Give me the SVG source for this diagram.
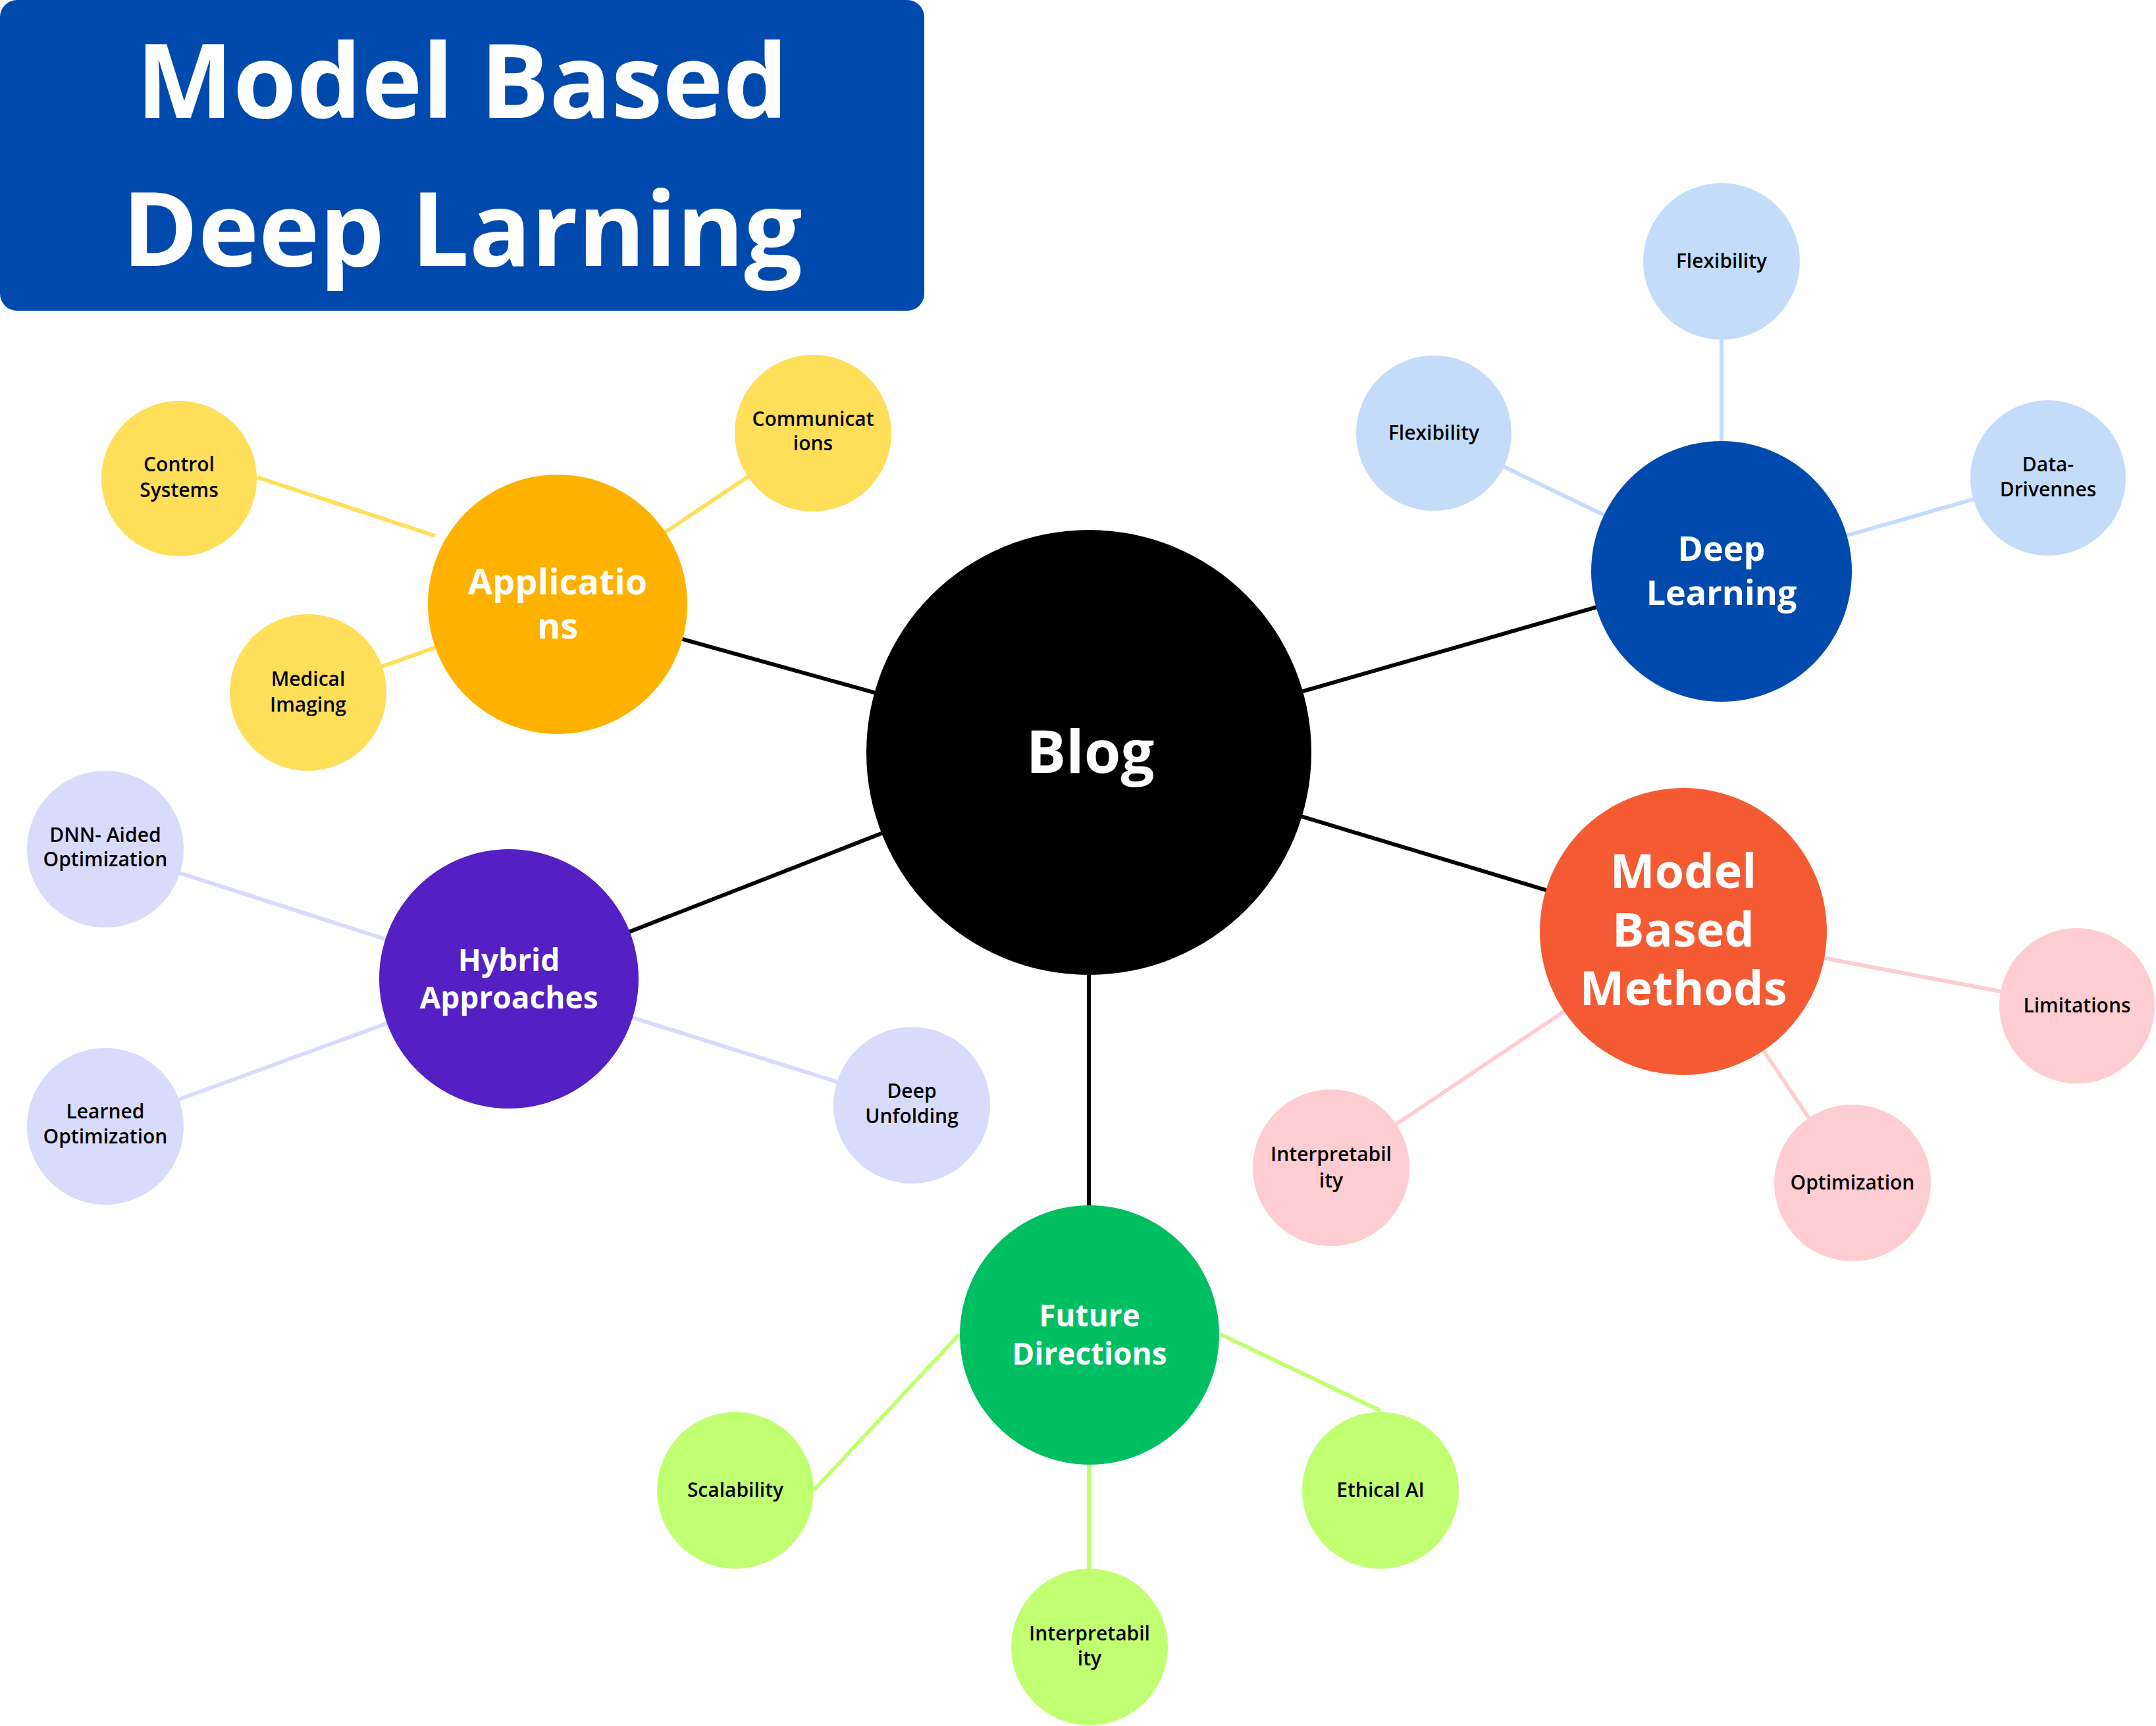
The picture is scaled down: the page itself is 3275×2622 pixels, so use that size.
<svg xmlns="http://www.w3.org/2000/svg" width="3275" height="2622" viewBox="0 0 3275 2622">
<style>
  .t { font-family: "Open Sans", "Noto Sans", "DejaVu Sans", sans-serif; text-anchor: middle; font-weight: 700; }
  .title { font-size: 156px; fill: #ffffff; }
  .blog { font-size: 90px; fill: #ffffff; }
  .apps { font-size: 54px; fill: #ffffff; }
  .dl { font-size: 52px; fill: #ffffff; }
  .mid { font-size: 46px; fill: #ffffff; }
  .mbm { font-size: 72px; fill: #ffffff; }
  .sm { font-size: 30px; fill: #000000; font-weight: 600; }
  .main { stroke: #000000; stroke-width: 6; }
  .ly { stroke: #ffde59; stroke-width: 6; }
  .lb { stroke: #c4dcfa; stroke-width: 6; }
  .lp { stroke: #fdcdd2; stroke-width: 6; }
  .lv { stroke: #d8dbfc; stroke-width: 6; }
  .lg { stroke: #c1ff72; stroke-width: 6; }
</style>
<rect width="3275" height="2622" fill="#ffffff"/>

<g id="title">
  <rect x="0" y="0" width="1404" height="472" rx="26" fill="#004aad"/>
  <text class="t title" x="702" y="179">Model Based</text>
  <text class="t title" x="702" y="404">Deep Larning</text>
</g>

<g id="connectors">
  <line class="main" x1="1654" y1="1143" x2="847" y2="918"/>
  <line class="main" x1="1654" y1="1143" x2="2615" y2="868"/>
  <line class="main" x1="1654" y1="1143" x2="2557" y2="1415"/>
  <line class="main" x1="1654" y1="1143" x2="773" y2="1487"/>
  <line class="main" x1="1654" y1="1143" x2="1654" y2="2028"/>

  <line class="ly" x1="391" y1="725" x2="661" y2="814"/>
  <line class="ly" x1="1235" y1="658" x2="847" y2="918"/>
  <line class="ly" x1="468" y1="1052" x2="847" y2="918"/>

  <line class="lb" x1="2615" y1="397" x2="2615" y2="868"/>
  <line class="lb" x1="2178" y1="658" x2="2615" y2="868"/>
  <line class="lb" x1="3111" y1="726" x2="2615" y2="868"/>

  <line class="lp" x1="2557" y1="1415" x2="3155" y2="1528"/>
  <line class="lp" x1="2557" y1="1415" x2="2814" y2="1797"/>
  <line class="lp" x1="2557" y1="1415" x2="2022" y2="1774"/>

  <line class="lv" x1="160" y1="1290" x2="773" y2="1487"/>
  <line class="lv" x1="160" y1="1711" x2="773" y2="1487"/>
  <line class="lv" x1="1385" y1="1679" x2="773" y2="1487"/>

  <line class="lg" x1="1236" y1="2264" x2="1457" y2="2027"/>
  <line class="lg" x1="1854" y1="2027" x2="2097" y2="2143"/>
  <line class="lg" x1="1654" y1="2225" x2="1654" y2="2384"/>
</g>

<g id="blog">
  <circle cx="1654" cy="1143" r="338" fill="#000000"/>
  <text class="t blog" x="1656" y="1174">Blog</text>
</g>

<g id="applications">
  <circle cx="847" cy="918" r="197" fill="#ffb100"/>
  <text class="t apps" x="847" y="903">Applicatio</text>
  <text class="t apps" x="847" y="970">ns</text>
</g>
<g id="control-systems">
  <circle cx="272" cy="727" r="118" fill="#ffde59"/>
  <text class="t sm" x="272" y="716">Control</text>
  <text class="t sm" x="272" y="755">Systems</text>
</g>
<g id="communications">
  <circle cx="1235" cy="658" r="119" fill="#ffde59"/>
  <text class="t sm" x="1235" y="647">Communicat</text>
  <text class="t sm" x="1235" y="684">ions</text>
</g>
<g id="medical-imaging">
  <circle cx="468" cy="1052" r="119" fill="#ffde59"/>
  <text class="t sm" x="468" y="1042">Medical</text>
  <text class="t sm" x="468" y="1081">Imaging</text>
</g>

<g id="deep-learning">
  <circle cx="2615" cy="868" r="198" fill="#004aad"/>
  <text class="t dl" x="2615" y="852">Deep</text>
  <text class="t dl" x="2615" y="919">Learning</text>
</g>
<g id="flexibility-top">
  <circle cx="2615" cy="397" r="119" fill="#c4dcfa"/>
  <text class="t sm" x="2615" y="407">Flexibility</text>
</g>
<g id="flexibility-left">
  <circle cx="2178" cy="658" r="118" fill="#c4dcfa"/>
  <text class="t sm" x="2178" y="668">Flexibility</text>
</g>
<g id="data-drivennes">
  <circle cx="3111" cy="726" r="118" fill="#c4dcfa"/>
  <text class="t sm" x="3111" y="716">Data-</text>
  <text class="t sm" x="3111" y="754">Drivennes</text>
</g>

<g id="model-based-methods">
  <circle cx="2557" cy="1415" r="218" fill="#f55b33"/>
  <text class="t mbm" x="2557" y="1349">Model</text>
  <text class="t mbm" x="2557" y="1438">Based</text>
  <text class="t mbm" x="2557" y="1527">Methods</text>
</g>
<g id="limitations">
  <circle cx="3155" cy="1528" r="118" fill="#fdcdd2"/>
  <text class="t sm" x="3155" y="1538">Limitations</text>
</g>
<g id="optimization">
  <circle cx="2814" cy="1797" r="119" fill="#fdcdd2"/>
  <text class="t sm" x="2814" y="1807">Optimization</text>
</g>
<g id="interpretability-mbm">
  <circle cx="2022" cy="1774" r="119" fill="#fdcdd2"/>
  <text class="t sm" x="2022" y="1764">Interpretabil</text>
  <text class="t sm" x="2022" y="1804">ity</text>
</g>

<g id="hybrid-approaches">
  <circle cx="773" cy="1487" r="197" fill="#5420c4"/>
  <text class="t mid" x="773" y="1475">Hybrid</text>
  <text class="t mid" x="773" y="1532">Approaches</text>
</g>
<g id="dnn-aided-optimization">
  <circle cx="160" cy="1290" r="119" fill="#d8dbfc"/>
  <text class="t sm" x="160" y="1279">DNN- Aided</text>
  <text class="t sm" x="160" y="1316">Optimization</text>
</g>
<g id="learned-optimization">
  <circle cx="160" cy="1711" r="119" fill="#d8dbfc"/>
  <text class="t sm" x="160" y="1699">Learned</text>
  <text class="t sm" x="160" y="1737">Optimization</text>
</g>
<g id="deep-unfolding">
  <circle cx="1385" cy="1679" r="119" fill="#d8dbfc"/>
  <text class="t sm" x="1385" y="1668">Deep</text>
  <text class="t sm" x="1385" y="1706">Unfolding</text>
</g>

<g id="future-directions">
  <circle cx="1655" cy="2028" r="197" fill="#00bf63"/>
  <text class="t mid" x="1655" y="2015">Future</text>
  <text class="t mid" x="1655" y="2073">Directions</text>
</g>
<g id="scalability">
  <circle cx="1117" cy="2264" r="119" fill="#c1ff72"/>
  <text class="t sm" x="1117" y="2274">Scalability</text>
</g>
<g id="ethical-ai">
  <circle cx="2097" cy="2264" r="119" fill="#c1ff72"/>
  <text class="t sm" x="2097" y="2274">Ethical AI</text>
</g>
<g id="interpretability-fd">
  <circle cx="1655" cy="2502" r="119" fill="#c1ff72"/>
  <text class="t sm" x="1655" y="2492">Interpretabil</text>
  <text class="t sm" x="1655" y="2530">ity</text>
</g>
</svg>
